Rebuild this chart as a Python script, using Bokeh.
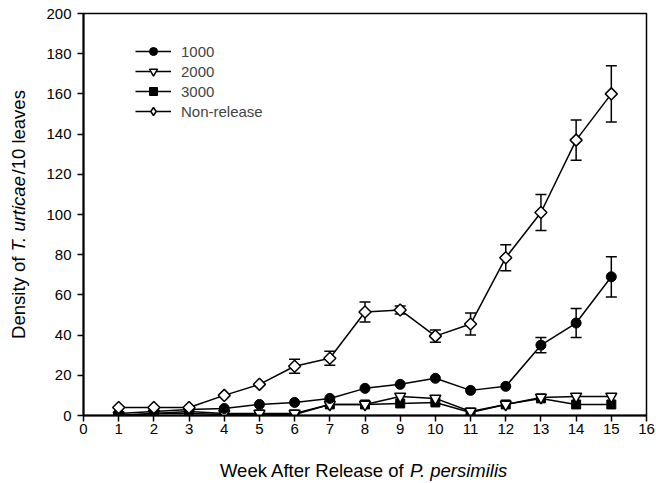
import math
from bokeh.plotting import figure
from bokeh.models import (Range1d, ColumnDataSource, Whisker, TeeHead, Legend,
                          LegendItem, Label, FixedTicker)
from bokeh.embed import file_html
from bokeh.resources import INLINE

weeks = [1, 2, 3, 4, 5, 6, 7, 8, 9, 10, 11, 12, 13, 14, 15]
nonrelease = [4, 4, 4, 10, 15.5, 24.5, 28.5, 51.5, 52.5, 39.5, 45.5, 78.5, 101, 137, 160]
nonrelease_err = [0.5, 0.5, 0.5, 1, 1, 3.5, 3.5, 5, 2, 3, 5.5, 6.5, 9, 10, 14]
rel1000 = [1, 2, 3, 3.5, 5.5, 6.5, 8.5, 13.5, 15.5, 18.5, 12.5, 14.5, 35, 46, 69]
rel1000_err = [0, 0.5, 0.5, 0.5, 1, 1, 1, 1, 1, 1, 1, 1, 3.8, 7.2, 10]
rel2000 = [0, 1, 2, 1, 1, 1, 5.5, 5.5, 9.5, 8.5, 2, 5.5, 9, 9.5, 9.5]
rel3000 = [0, 1, 1, 0.5, 0.5, 0.5, 5.5, 5.5, 6, 6.5, 1.5, 5.5, 8.5, 5.5, 5.5]
x_ticks = list(range(0, 17))
y_ticks = list(range(0, 201, 20))

FONT = "Liberation Sans"
NBSP = "\u00a0"

p = figure(width=656, height=483, output_backend="svg", toolbar_location=None,
           x_range=Range1d(0, 16), y_range=Range1d(0, 200),
           min_border_left=83, min_border_right=10, min_border_top=13,
           min_border_bottom=68)
p.xgrid.visible = False
p.ygrid.visible = False
p.outline_line_color = "black"
p.outline_line_width = 1.5
p.background_fill_color = "white"
p.border_fill_color = "white"

for ax in (p.xaxis[0], p.yaxis[0]):
    ax.axis_line_width = 2
    ax.axis_line_color = "black"
    ax.major_tick_line_width = 1.5
    ax.major_tick_line_color = "black"
    ax.major_tick_in = 0
    ax.major_tick_out = 6
    ax.minor_tick_line_color = None
    ax.major_label_text_font = FONT
    ax.major_label_text_font_size = "15px"
    ax.major_label_text_color = "black"
p.xaxis[0].ticker = FixedTicker(ticks=x_ticks)
p.yaxis[0].ticker = FixedTicker(ticks=y_ticks)
p.xaxis[0].major_label_standoff = 2
p.yaxis[0].major_label_standoff = 6

# error bars
def add_err(xs, ys, es):
    idx = [i for i, e in enumerate(es) if e >= 1.5]
    src = ColumnDataSource(dict(x=[xs[i] for i in idx],
                                up=[ys[i] + es[i] for i in idx],
                                lo=[ys[i] - es[i] for i in idx]))
    w = Whisker(base="x", upper="up", lower="lo", source=src, level="underlay",
                line_color="black", line_width=1.5,
                upper_head=TeeHead(size=11, line_width=1.5, line_color="black"),
                lower_head=TeeHead(size=11, line_width=1.5, line_color="black"))
    p.add_layout(w)

add_err(weeks, nonrelease, nonrelease_err)
add_err(weeks, rel1000, rel1000_err)

l3 = p.line(weeks, rel3000, line_color="black", line_width=1.5)
m3 = p.scatter(weeks, rel3000, marker="square", size=9, fill_color="black", line_color="black")
l2 = p.line(weeks, rel2000, line_color="black", line_width=1.5)
m2 = p.scatter(weeks, rel2000, marker="inverted_triangle", size=11, fill_color="white",
               line_color="black", line_width=1.5)
l1 = p.line(weeks, rel1000, line_color="black", line_width=1.5)
m1 = p.scatter(weeks, rel1000, marker="circle", size=10, fill_color="black", line_color="black")
l0 = p.line(weeks, nonrelease, line_color="black", line_width=1.5)
# diamond sample used by the legend (legend glyphs are drawn unrotated); it sits
# entirely underneath the larger rotated-square markers drawn next
m0_leg = p.scatter(weeks, nonrelease, marker="diamond", size=8, fill_color="white",
                   line_color="black", line_width=1.5)
m0 = p.scatter(weeks, nonrelease, marker="square", angle=math.pi / 4, size=8.5,
               fill_color="white", line_color="black", line_width=1.5)

legend = Legend(items=[
    LegendItem(label="1000", renderers=[l1, m1]),
    LegendItem(label="2000", renderers=[l2, m2]),
    LegendItem(label="3000", renderers=[l3, m3]),
    LegendItem(label="Non-release", renderers=[l0, m0_leg]),
], location=(52, 294), padding=0, margin=0, spacing=-3, glyph_width=36, glyph_height=20,
   label_height=20, label_standoff=10, label_text_font=FONT, label_text_font_size="15px",
   border_line_alpha=0, background_fill_alpha=0)
p.add_layout(legend, "center")

# x axis title (mixed italic), in the bottom panel so it is not clipped to the frame
for txt, xx, style in [("Week After Release of", 3.879, "normal"),
                       ("P. persimilis", 9.278, "italic")]:
    p.add_layout(Label(x=xx, y=-27.4, text=txt, text_font=FONT, text_font_size="18.5px",
                       text_font_style=style, text_align="left", text_baseline="middle",
                       text_color="black"), "below")
# y axis title (mixed italic), rotated; regular text keeps a gap for the italic part
for txt, yy, style in [("Density of " + NBSP * 15 + "/10 leaves", 38.1, "normal"),
                       ("T. urticae", 81.6, "italic")]:
    p.add_layout(Label(x=-1.847, y=yy, text=txt, angle=math.pi / 2, text_font=FONT,
                       text_font_size="18.5px", text_font_style=style, text_align="left",
                       text_baseline="middle", text_color="black"), "left")

open("out.html", "w").write(file_html(p, INLINE))
